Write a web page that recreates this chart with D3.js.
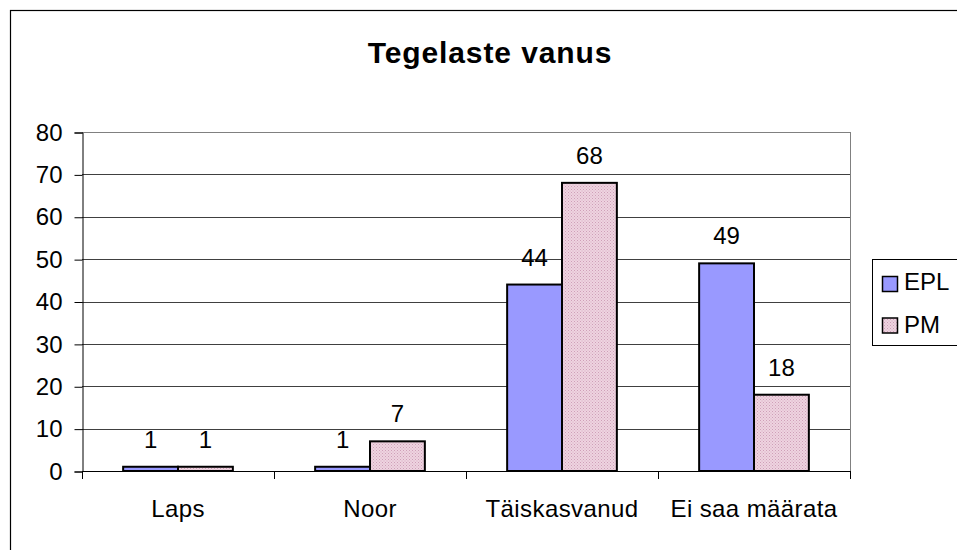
<!DOCTYPE html>
<html>
<head>
<meta charset="utf-8">
<script src="https://cdn.jsdelivr.net/npm/d3@7/dist/d3.min.js"></script>
<style>
  body { margin: 0; background: #fff; }
  text { font-family: "Liberation Sans", Arial, sans-serif; }
</style>
</head>
<body>
<script>
const categories = ["Laps", "Noor", "Täiskasvanud", "Ei saa määrata"]
const seriesNames = ["EPL", "PM"]
const eplValues = [1, 1, 44, 49]
const pmValues = [1, 7, 68, 18]
const yTicks = [0, 10, 20, 30, 40, 50, 60, 70, 80]

const width = 957, height = 550
const plot = {left: 82, top: 132, right: 850, bottom: 471}
const fontFam = "Liberation Sans, Arial, sans-serif"

const svg = d3.select("body").append("svg")
  .attr("width", width)
  .attr("height", height)

// pink hatch pattern for PM
const defs = svg.append("defs")
const pat = defs.append("pattern")
  .attr("id", "pmfill")
  .attr("width", 3).attr("height", 3)
  .attr("patternUnits", "userSpaceOnUse")
pat.append("rect").attr("width", 3).attr("height", 3).attr("fill", "#eed4e0")
pat.append("rect").attr("width", 1).attr("height", 1).attr("fill", "#cf9fb8")
pat.append("rect").attr("x", 1.5).attr("y", 1.5).attr("width", 1).attr("height", 1).attr("fill", "#d6aac0")

const fills = ["#9999ff", "url(#pmfill)"]

// outer chart border
svg.append("rect")
  .attr("x", 10.5).attr("y", 10.5)
  .attr("width", 960).attr("height", 560)
  .attr("fill", "none").attr("stroke", "#000").attr("stroke-width", 1.2)

svg.append("text")
  .attr("x", 490).attr("y", 63)
  .attr("text-anchor", "middle")
  .attr("font-size", 30).attr("font-weight", "bold")
  .attr("letter-spacing", 0.9)
  .text("Tegelaste vanus")

const x = d3.scaleBand().domain(categories).range([plot.left, plot.right])
const xs = d3.scaleBand().domain(seriesNames)
  .range([0, x.bandwidth()]).paddingInner(0).paddingOuter(0.75)
const y = d3.scaleLinear().domain([0, 80]).range([plot.bottom, plot.top])

// gridlines
svg.append("g")
  .selectAll("line")
  .data(yTicks.slice(1))
  .enter().append("line")
    .attr("x1", plot.left).attr("x2", plot.right)
    .attr("y1", d => Math.round(y(d)) + 0.5).attr("y2", d => Math.round(y(d)) + 0.5)
    .attr("stroke", d => d === 80 ? "#808080" : "#404040")
    .attr("stroke-width", 1)

// plot right edge
svg.append("line")
  .attr("x1", plot.right + 0.5).attr("x2", plot.right + 0.5)
  .attr("y1", plot.top).attr("y2", plot.bottom)
  .attr("stroke", "#808080")

// y axis
const yAxis = svg.append("g")
  .attr("transform", "translate(" + (plot.left + 0.5) + ",0.5)")
  .call(d3.axisLeft(y).tickValues(yTicks).tickSize(8).tickPadding(12))
yAxis.select(".domain").attr("stroke", "#000")
yAxis.selectAll(".tick line").attr("stroke", "#000")
yAxis.selectAll("text")
  .attr("font-family", fontFam)
  .attr("font-size", 24).attr("fill", "#000")

// x axis
const xAxis = svg.append("g")
  .attr("transform", "translate(0," + (plot.bottom + 0.5) + ")")
  .call(d3.axisBottom(x).tickSize(0).tickPadding(28))
xAxis.select(".domain").attr("stroke", "#000").attr("d", "M" + plot.left + ",0H" + plot.right)
xAxis.selectAll("text")
  .attr("font-family", fontFam)
  .attr("font-size", 24).attr("fill", "#000")
  .attr("letter-spacing", 0.4)
// category boundary ticks
svg.append("g")
  .selectAll("line")
  .data(categories.concat([null]))
  .enter().append("line")
    .attr("x1", (d, i) => Math.round(plot.left + i * x.step()) + 0.5)
    .attr("x2", (d, i) => Math.round(plot.left + i * x.step()) + 0.5)
    .attr("y1", plot.bottom).attr("y2", plot.bottom + 8)
    .attr("stroke", "#000")

// bars
const rows = categories.map((c, i) => ({cat: c, vals: [eplValues[i], pmValues[i]]}))
const groups = svg.append("g").selectAll("g")
  .data(rows)
  .enter().append("g")
    .attr("transform", d => "translate(" + x(d.cat) + ",0)")

groups.selectAll("rect")
  .data(d => d.vals.map((v, j) => ({name: seriesNames[j], v: v, j: j})))
  .enter().append("rect")
    .attr("x", d => xs(d.name))
    .attr("y", d => y(d.v))
    .attr("width", xs.bandwidth())
    .attr("height", d => y(0) - y(d.v))
    .attr("fill", d => fills[d.j])
    .attr("stroke", "#000").attr("stroke-width", 2)

groups.selectAll("text.label")
  .data(d => d.vals.map((v, j) => ({name: seriesNames[j], v: v})))
  .enter().append("text")
    .attr("class", "label")
    .attr("x", d => xs(d.name) + xs.bandwidth() / 2)
    .attr("y", d => y(d.v) - 19)
    .attr("text-anchor", "middle")
    .attr("font-size", 24)
    .text(d => d.v)

// legend
const leg = svg.append("g").attr("transform", "translate(872,259)")
leg.append("rect")
  .attr("x", 0.5).attr("y", 0.5).attr("width", 100).attr("height", 86)
  .attr("fill", "#fff").attr("stroke", "#000")
seriesNames.forEach((n, i) => {
  leg.append("rect")
    .attr("x", 10.5).attr("y", 17.5 + i * 41.5).attr("width", 15).attr("height", 15)
    .attr("fill", fills[i]).attr("stroke", "#000").attr("stroke-width", 1.5)
  leg.append("text")
    .attr("x", 32).attr("y", 31 + i * 42.5)
    .attr("font-size", 24)
    .text(n)
})
</script>
</body>
</html>
